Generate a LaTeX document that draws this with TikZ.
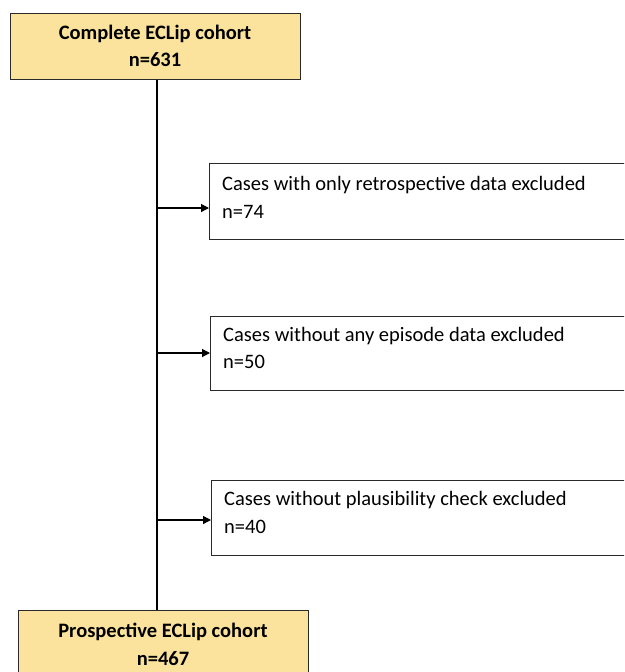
\documentclass[tikz,border=0pt]{standalone}
\usepackage{fontspec}
\setmainfont{Carlito}
\usetikzlibrary{arrows.meta}
\definecolor{boxyellow}{HTML}{FBE39D}
\definecolor{edge}{HTML}{2A2A2A}
\tikzset{
  cohort/.style={draw=edge, fill=boxyellow, line width=1.4pt, inner sep=0pt},
  excl/.style={draw=edge, fill=white, line width=1pt, inner sep=0pt},
  btxt/.style={font=\fontsize{20.5}{25}\selectfont\bfseries, inner sep=0pt},
  ntxt/.style={font=\fontsize{20.5}{25}\selectfont, anchor=west, inner sep=0pt},
  conn/.style={draw=black, line width=1.2pt},
  arr/.style={conn, -{Triangle[length=8pt,width=8pt]}}
}
\begin{document}
\begin{tikzpicture}[x=1pt,y=-1pt]
\useasboundingbox (0,0) rectangle (624,672);
\clip (0,0) rectangle (624,672);
% top box
\node[cohort, minimum width=290pt, minimum height=66pt, anchor=north west] (top) at (10,13) {};
\node[btxt] (toptxt1) at (155,34) {Complete ECLip cohort};
\node[btxt] (toptxt2) at (155,60) {n=631};
% bottom box
\node[cohort, minimum width=290pt, minimum height=80pt, anchor=north west] (bot) at (18,610) {};
\node[btxt] (bottxt1) at (163,632) {Prospective ECLip cohort};
\node[btxt] (bottxt2) at (163,659) {n=467};
% exclusion boxes
\node[excl, minimum width=430pt, minimum height=76pt, anchor=north west] (e1) at (209,163) {};
\node[excl, minimum width=430pt, minimum height=74pt, anchor=north west] (e2) at (210,316) {};
\node[excl, minimum width=430pt, minimum height=75pt, anchor=north west] (e3) at (211,480) {};
\node[ntxt] (e1a) at (222,185) {Cases with only retrospective data excluded};
\node[ntxt] (e1b) at (222,212) {n=74};
\node[ntxt] (e2a) at (223,336) {Cases without any episode data excluded};
\node[ntxt] (e2b) at (223,362) {n=50};
\node[ntxt] (e3a) at (224,500) {Cases without plausibility check excluded};
\node[ntxt] (e3b) at (224,527) {n=40};
% connectors
\coordinate (j1) at (157,208);
\coordinate (j2) at (157,353);
\coordinate (j3) at (157,520);
\draw[conn] (top.south -| j1) -- (bot.north -| j1);
\draw[arr] (j1) -- (e1.west |- j1);
\draw[arr] (j2) -- (e2.west |- j2);
\draw[arr] (j3) -- (e3.west |- j3);
\end{tikzpicture}
\end{document}
